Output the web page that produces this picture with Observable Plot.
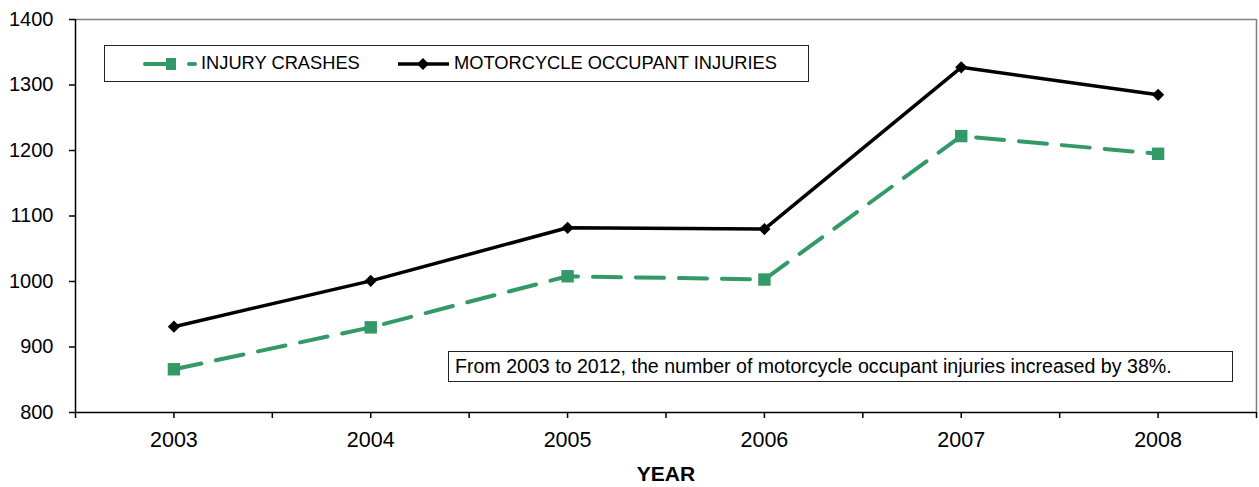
<!DOCTYPE html>
<html>
<head>
<meta charset="utf-8">
<script src="https://cdn.jsdelivr.net/npm/d3@7"></script>
<script src="https://cdn.jsdelivr.net/npm/@observablehq/plot@0.6"></script>
<style>
  html, body { margin: 0; padding: 0; background: #fff; }
  #wrap { position: relative; width: 1259px; height: 487px; font-family: "Liberation Sans", Arial, sans-serif; }
  .box { position: absolute; border: 1.5px solid #222; background: #fff; box-sizing: border-box; color: #000; }
  #legend { left: 104px; top: 45px; width: 705px; height: 37px; font-size: 18.3px; }
  #legend svg { position: absolute; left: 0; top: 0; }
  #legend span { position: absolute; top: 6px; white-space: nowrap; line-height: 1.15; }
  #note { left: 448px; top: 351px; width: 785px; height: 31px; font-size: 19.6px; }
  #note span { position: absolute; left: 6px; top: 3px; white-space: nowrap; line-height: 1.15; }
</style>
</head>
<body>
<div id="wrap"></div>
<script>
const years = [2003, 2004, 2005, 2006, 2007, 2008];
const injuryCrashes = [866, 930, 1008, 1003, 1222, 1195];
const occupantInjuries = [931, 1001, 1082, 1080, 1327, 1285];
const yTicks = [800, 900, 1000, 1100, 1200, 1300, 1400];
const xTicks = [2002.5, 2003, 2003.5, 2004, 2004.5, 2005, 2005.5, 2006, 2006.5, 2007, 2007.5, 2008, 2008.5];
const seriesNames = ["INJURY CRASHES", "MOTORCYCLE OCCUPANT INJURIES"];
const xLabel = "YEAR";
const noteText = "From 2003 to 2012, the number of motorcycle occupant injuries increased by 38%.";

const green = "#339966";
const crashes = years.map((y, i) => ({year: y, value: injuryCrashes[i]}));
const injuries = years.map((y, i) => ({year: y, value: occupantInjuries[i]}));

const plot = Plot.plot({
  width: 1259,
  height: 487,
  marginLeft: 75,
  marginRight: 3,
  marginTop: 19,
  marginBottom: 75,
  style: {fontFamily: "'Liberation Sans', Arial, sans-serif", background: "#fff", color: "#000"},
  x: {type: "linear", domain: [2002.5, 2008.5]},
  y: {domain: [800, 1400]},
  marks: [
    Plot.ruleY([1400], {stroke: "#808080", strokeWidth: 1.5}),
    Plot.ruleX([2008.5], {stroke: "#808080", strokeWidth: 1.5}),
    Plot.axisY({ticks: yTicks, tickFormat: d => String(d), tickSize: 6, tickPadding: 16, fontSize: 20, label: null, stroke: "#000", strokeWidth: 1.5}),
    Plot.axisX({ticks: xTicks, tickSize: 6, tickPadding: 13, fontSize: 21.5, stroke: "#000", strokeWidth: 1.5,
      tickFormat: d => Number.isInteger(d) ? String(d) : "", label: null}),
    Plot.ruleY([800], {stroke: "#000", strokeWidth: 1.5}),
    Plot.ruleX([2002.5], {stroke: "#000", strokeWidth: 1.5}),
    Plot.text([xLabel], {frameAnchor: "bottom", dy: 68, fontSize: 21, fontWeight: "bold", fill: "#000"}),
    Plot.line(crashes, {x: "year", y: "value", stroke: green, strokeWidth: 4, strokeDasharray: "28,15", strokeLinecap: "round"}),
    Plot.dot(crashes, {x: "year", y: "value", symbol: "square", r: 7, fill: green, stroke: "none"}),
    Plot.line(injuries, {x: "year", y: "value", stroke: "#000", strokeWidth: 3.5}),
    Plot.dot(injuries, {x: "year", y: "value", symbol: "diamond2", r: 5.5, fill: "#000", stroke: "none"})
  ]
});

const wrap = document.getElementById("wrap");
wrap.appendChild(plot);

const legend = document.createElement("div");
legend.id = "legend";
legend.className = "box";
legend.innerHTML = `
<svg width="705" height="37">
  <line x1="40" y1="18" x2="62" y2="18" stroke="${green}" stroke-width="4" stroke-linecap="round"/>
  <rect x="61" y="12" width="10" height="12" fill="${green}"/>
  <line x1="84" y1="18" x2="90" y2="18" stroke="${green}" stroke-width="4" stroke-linecap="round"/>
  <line x1="293" y1="18" x2="344" y2="18" stroke="#000" stroke-width="3.5"/>
  <path d="M318,12 L324,18 L318,24 L312,18 Z" fill="#000"/>
</svg>
<span style="left:96px">${seriesNames[0]}</span>
<span style="left:349px">${seriesNames[1]}</span>`;
wrap.appendChild(legend);

const note = document.createElement("div");
note.id = "note";
note.className = "box";
note.innerHTML = `<span>${noteText}</span>`;
wrap.appendChild(note);
</script>
</body>
</html>
